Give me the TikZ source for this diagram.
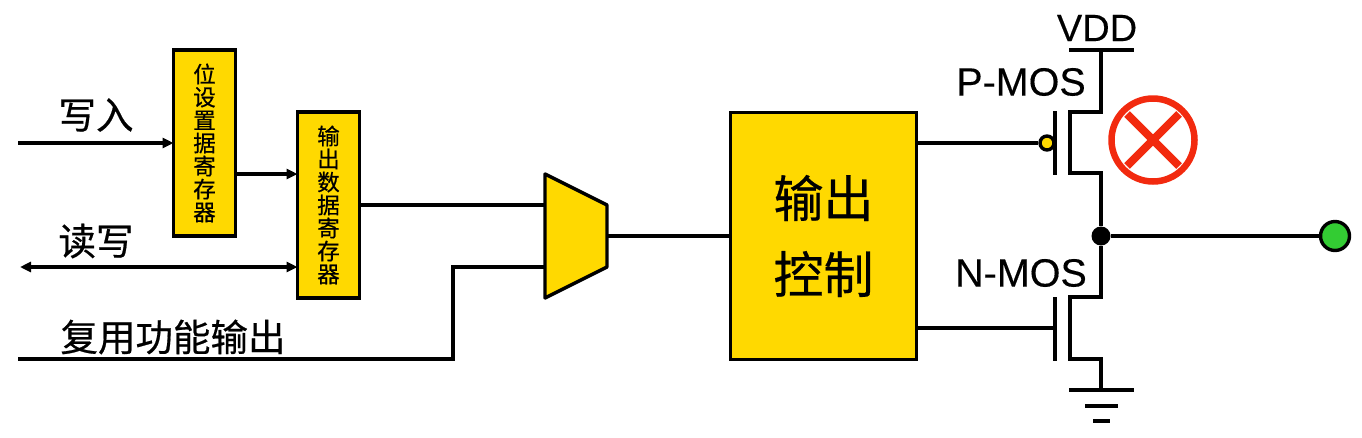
\documentclass[tikz,border=0pt]{standalone}
\usepackage{fontspec}
\setmainfont[FakeBold=0.25]{Liberation Sans}
\newfontfamily\cjk[FakeBold=0.5]{Noto Sans CJK SC}
\usetikzlibrary{arrows.meta}
\definecolor{boxyellow}{HTML}{FFD900}
\definecolor{crossred}{HTML}{F22A0F}
\definecolor{padgreen}{HTML}{33CC33}
\tikzset{
    wire/.style={line width=3.4pt},
    arrowwire/.style={wire, -{Triangle[length=11pt,width=10pt]}},
    regbox/.style={draw, wire, fill=boxyellow, minimum width=62pt, minimum height=186pt, inner sep=0pt, outer sep=0pt, align=center, font=\cjk\fontsize{22.5}{23}\selectfont},
    cnlabel/.style={inner sep=0pt, font=\cjk\fontsize{37.5}{42}\selectfont},
    moslabel/.style={inner sep=0pt, font=\fontsize{39.5}{42}\selectfont},
}
\begin{document}
\begin{tikzpicture}[x=1pt, y=-1pt]
    \useasboundingbox (0,0) rectangle (1362,437);
    % registers and control block
    \node[regbox] (bit_reg) at (204.5,143) {位\\设\\置\\据\\寄\\存\\器};
    \node[regbox] (out_reg) at (328.5,205) {输\\出\\数\\据\\寄\\存\\器};
    \node[regbox, minimum width=186pt, minimum height=247pt, font=\cjk\fontsize{50}{76}\selectfont] (ctrl) at (823.5,236) {输出\\控制};
    % labels
    \node[cnlabel] (write_label) at (96,115) {写入};
    \node[cnlabel] (rw_label) at (96,241) {读写};
    \node[cnlabel] (alt_label) at (173,337) {复用功能输出};
    \node[moslabel, font=\fontsize{38}{42}\selectfont] (vdd_label) at (1097,28) {VDD};
    \node[moslabel] (pmos_label) at (1021,82) {P-MOS};
    \node[moslabel] (nmos_label) at (1021,273) {N-MOS};
    % free ends and ports
    \coordinate (write_in) at (18,143);
    \coordinate (rw_in) at (20,267);
    \coordinate (alt_in) at (18,359);
    \coordinate (alt_bend) at (453,359);
    \coordinate (mux_low) at (545,267);
    \coordinate (mux_high) at (545,205);
    \coordinate (mux_out) at (607,236);
    \coordinate (vdd_top) at (1101,50);
    \coordinate (gnd_top) at (1101,390);
    % left side
    \draw[arrowwire] (write_in) -- (bit_reg.west);
    \draw[arrowwire] (bit_reg.east |- 0,174) -- (out_reg.west |- 0,174);
    \draw[wire, {Triangle[length=11pt,width=10pt]}-{Triangle[length=11pt,width=10pt]}] (rw_in) -- (out_reg.west |- rw_in);
    \draw[wire] (out_reg.east) -- (mux_high);
    \draw[wire] (alt_in) -- (alt_bend) |- (mux_low);
    \draw[wire] (mux_out) -- (ctrl.west);
    \draw[wire, fill=boxyellow, line join=round] (545,174) -- (607,205) -- (607,267) -- (545,298) -- cycle;
    % transistors
    \node[circle, draw, wire, fill=boxyellow, minimum size=14pt, inner sep=0pt] (pmos_bubble) at (1047,143) {};
    \node[circle, fill=black, minimum size=19pt, inner sep=0pt] (out_dot) at (1101,236) {};
    \node[circle, draw, wire, fill=padgreen, minimum size=29pt, inner sep=0pt] (out_pad) at (1335,236) {};
    \draw[wire] (ctrl.east |- pmos_bubble) -- (pmos_bubble);
    \draw[wire] (ctrl.east |- 0,328) -- (1055,328);
    \draw[wire] (1055,111) -- (1055,175);
    \draw[wire] (1055,297) -- (1055,361);
    \draw[wire] (vdd_top) -- (1101,112) -- (1070,112) -- (1070,173) -- (1101,173) -- (out_dot);
    \draw[wire] (out_dot) -- (1101,297) -- (1070,297) -- (1070,359) -- (1101,359) -- (gnd_top);
    \draw[wire] (out_dot) -- (out_pad);
    % supply and ground bars
    \draw[wire] (1069,50) -- (1134,50);
    \draw[wire] (1069,390) -- (1134,390);
    \draw[wire] (1085,406) -- (1118,406);
    \draw[wire] (1093,421) -- (1110,421);
    % red mark
    \node[circle, draw=crossred, line width=6.5pt, minimum size=83pt, inner sep=0pt] (pmos_off) at (1153,140) {};
    \draw[crossred, line width=8pt] ([shift={(-26,-26)}]pmos_off.center) -- ([shift={(26,26)}]pmos_off.center);
    \draw[crossred, line width=8pt] ([shift={(-26,26)}]pmos_off.center) -- ([shift={(26,-26)}]pmos_off.center);
\end{tikzpicture}
\end{document}
